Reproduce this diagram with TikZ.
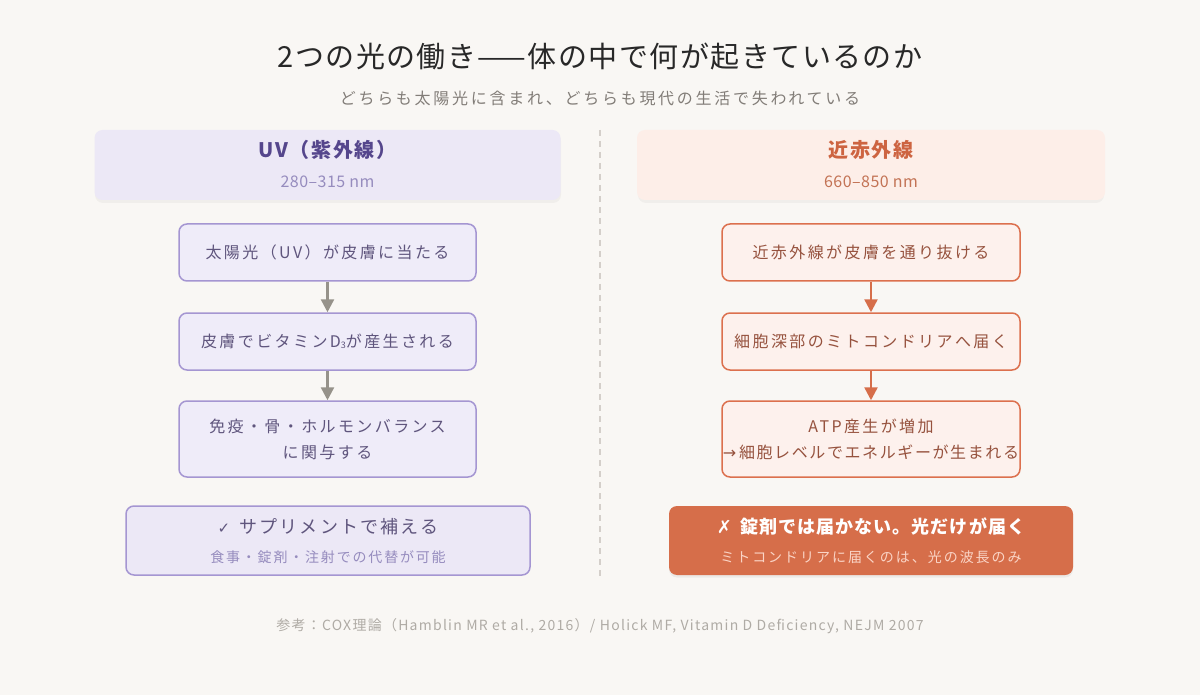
\documentclass[tikz,border=0pt]{standalone}
\usepackage{fontspec}
\setmainfont{Noto Sans CJK JP}
\newfontfamily\symfont{DejaVu Sans}
\newcommand{\ls}[1]{\addfontfeatures{LetterSpace=#1}}
\usetikzlibrary{arrows.meta}
\definecolor{bg}{RGB}{249,247,244}
\definecolor{uvfill}{RGB}{236,232,246}
\definecolor{uvbox}{RGB}{239,236,249}
\definecolor{uvline}{RGB}{165,150,210}
\definecolor{uvtitle}{RGB}{85,70,140}
\definecolor{uvsub}{RGB}{150,140,190}
\definecolor{uvtext}{RGB}{95,85,125}
\definecolor{uvarrow}{RGB}{150,146,138}
\definecolor{irfill}{RGB}{253,238,232}
\definecolor{irbox}{RGB}{253,241,237}
\definecolor{irline}{RGB}{220,112,78}
\definecolor{irtitle}{RGB}{205,100,65}
\definecolor{irsub}{RGB}{195,115,85}
\definecolor{irtext}{RGB}{150,82,62}
\definecolor{irstrong}{RGB}{214,110,74}
\definecolor{irlight}{RGB}{250,212,198}
\definecolor{divider}{RGB}{212,207,202}
\definecolor{titlec}{RGB}{40,40,40}
\definecolor{subc}{RGB}{130,125,120}
\definecolor{footc}{RGB}{175,171,165}
\tikzset{
  x=1pt, y=-1pt,
  header/.style={rectangle, rounded corners=8pt, minimum width=466pt, minimum height=70pt, inner sep=0pt},
  shadowbox/.style={rectangle, rounded corners=8pt, minimum width=466pt, minimum height=70pt, inner sep=0pt, fill=black, opacity=0.035},
  uvstep/.style={rectangle, rounded corners=8pt, draw=uvline, line width=1.5pt, fill=uvbox, minimum width=297pt, inner sep=0pt, text=uvtext, font=\fontsize{16}{26}\selectfont\ls{15}, align=center},
  irstep/.style={rectangle, rounded corners=8pt, draw=irline, line width=1.5pt, fill=irbox, minimum width=298pt, inner sep=0pt, text=irtext, font=\fontsize{16}{26}\selectfont\ls{15}, align=center},
  uvarr/.style={draw=uvarrow, line width=2.5pt, -{Triangle[length=13pt,width=13pt]}},
  irarr/.style={draw=irstrong, line width=2.5pt, -{Triangle[length=13pt,width=13pt]}},
  txt/.style={inner sep=0pt, anchor=center},
}
\begin{document}
\begin{tikzpicture}
\useasboundingbox[fill=bg] (0,0) rectangle (1200,695);
% title
\node[txt, text=titlec, font=\fontsize{29}{32}\selectfont\ls{5}] (title) at (600,57) {2つの光の働き——体の中で何が起きているのか};
\node[txt, text=subc, font=\fontsize{16}{20}\selectfont\ls{17}] (subtitle) at (600,98) {どちらも太陽光に含まれ、どちらも現代の生活で失われている};
% divider
\coordinate (dtop) at (600,130);
\coordinate (dbot) at (600,578);
\draw[divider, line width=1.5pt, dash pattern=on 6pt off 5pt] (dtop) -- (dbot);
% headers
\node[shadowbox] (uvsh) at (328,168) {};
\node[shadowbox] (irsh) at (871,168) {};
\node[header, fill=uvfill] (uvhead) at (327.5,165) {};
\node[header, fill=irfill, minimum width=468pt] (irhead) at (871,165) {};
\node[txt, text=uvtitle, font=\fontsize{20}{24}\selectfont\bfseries\ls{8}] (uvt) at (327.5,150) {UV（紫外線）};
\node[txt, text=uvsub, font=\fontsize{16}{18}\selectfont\ls{3}] (uvs) at (327.5,182) {280–315 nm};
\node[txt, text=irtitle, font=\fontsize{20}{24}\selectfont\bfseries\ls{8}] (irt) at (871,150) {近赤外線};
\node[txt, text=irsub, font=\fontsize{16}{18}\selectfont\ls{3}] (irs) at (871,182) {660–850 nm};
% UV flow
\node[uvstep, minimum height=57pt] (u1) at (327.5,252.5) {太陽光（UV）が皮膚に当たる};
\node[uvstep, minimum height=57pt] (u2) at (327.5,341.5) {皮膚でビタミンD{\fontsize{9}{9}\selectfont\raisebox{-1.5pt}{3}}が産生される};
\node[uvstep, minimum height=76pt] (u3) at (327.5,439) {免疫・骨・ホルモンバランス\\に関与する};
\draw[uvarr] (u1.south) -- (u2.north);
\draw[uvarr] (u2.south) -- (u3.north);
% IR flow
\node[irstep, minimum height=57pt] (r1) at (871,252.5) {近赤外線が皮膚を通り抜ける};
\node[irstep, minimum height=57pt] (r2) at (871,341.5) {細胞深部のミトコンドリアへ届く};
\node[irstep, minimum height=76pt] (r3) at (871,439) {};
\node[txt, text=irtext, font=\fontsize{16}{26}\selectfont\ls{15}, align=center] (r3t) at (871,439) {ATP産生が増加\\{\ls{10}{\symfont →}\,細胞レベルでエネルギーが生まれる}};
\draw[irarr] (r1.south) -- (r2.north);
\draw[irarr] (r2.south) -- (r3.north);
% bottom boxes
\node[rectangle, rounded corners=8pt, draw=uvline, line width=1.5pt, fill=uvfill, minimum width=404pt, minimum height=69pt] (ub) at (328,540.5) {};
\node[txt, text=uvtext, font=\fontsize{18}{22}\selectfont\ls{12}] (ubt) at (328,527) {{\symfont\fontsize{15}{16}\selectfont ✓}\, サプリメントで補える};
\node[txt, text=uvsub, font=\fontsize{14}{18}\selectfont\ls{13}] (ubs) at (328,557) {食事・錠剤・注射での代替が可能};
\node[rectangle, rounded corners=8pt, fill=black, opacity=0.05, minimum width=404pt, minimum height=69pt] (rbsh) at (871,543) {};
\node[rectangle, rounded corners=8pt, fill=irstrong, minimum width=404pt, minimum height=69pt] (rb) at (871,540.5) {};
\node[txt, text=white, font=\fontsize{18}{22}\selectfont\bfseries\ls{6}] (rbt) at (871,527) {{\symfont ✗}\, 錠剤では届かない。光だけが届く};
\node[txt, text=irlight, font=\fontsize{14}{18}\selectfont\ls{14}] (rbs) at (871,557) {ミトコンドリアに届くのは、光の波長のみ};
% footer
\node[txt, text=footc, font=\fontsize{14}{18}\selectfont\ls{9}] (foot) at (600,626) {参考：COX理論（Hamblin MR et al., 2016）/ Holick MF, Vitamin D Deficiency, NEJM 2007};
\end{tikzpicture}
\end{document}
